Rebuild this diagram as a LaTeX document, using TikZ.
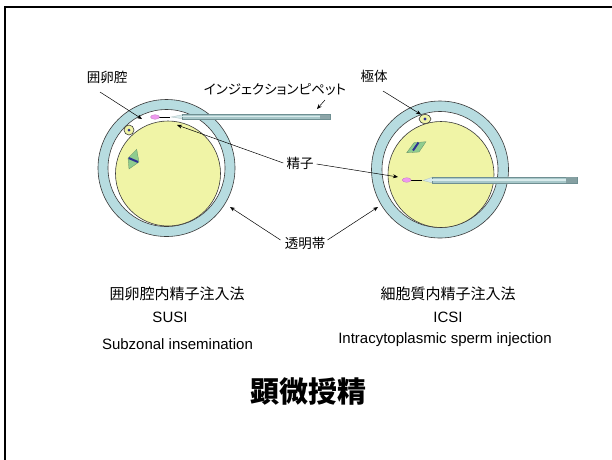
\documentclass[tikz,border=0pt]{standalone}
\usepackage{fontspec}
\setmainfont{Liberation Sans}
\newfontfamily\jp[RawFeature=+palt]{Noto Sans CJK JP}
\usetikzlibrary{arrows.meta}

\definecolor{zona}{HTML}{B7DCE0}
\definecolor{ooplasm}{HTML}{F0F4A6}
\definecolor{cellline}{HTML}{3A3A3A}
\definecolor{pip}{HTML}{A8C8CA}
\definecolor{pipedge}{HTML}{6F8F92}
\definecolor{piplight}{HTML}{D8EBEC}
\definecolor{sperm}{HTML}{EE99EE}
\definecolor{spindle}{HTML}{8FCC8F}
\definecolor{chromo}{HTML}{2E3192}

\begin{document}
\begin{tikzpicture}[x=1pt,y=-1pt,
  lbl/.style={font=\jp\fontsize{13.5}{15}\selectfont, inner sep=0pt},
  jpcap/.style={font=\jp\fontsize{15}{17}\selectfont, inner sep=0pt},
  eng/.style={font=\fontsize{15}{17}\selectfont, inner sep=0pt},
  ptr/.style={draw=black, line width=0.5pt, -{Stealth[length=5pt,width=4pt]}},
  ring/.style={draw=cellline, line width=0.6pt},
  pipbody/.style={fill=pip, draw=pipedge, line width=0.5pt},
]
\useasboundingbox (0,0) rectangle (612,459);
\fill[white] (0,0) rectangle (612,459);
% slide frame
\draw[line width=2pt] (5,7) rectangle (640,480);

% ---------- SUSI oocyte ----------
\filldraw[fill=zona, ring] (166.5,168) circle (68.5);
\filldraw[fill=white, ring] (166.5,168) circle (58.5);
\filldraw[fill=ooplasm, ring] (168,173.5) circle (52.5);
% polar body
\filldraw[fill=ooplasm, ring] (129,130) circle (5);
\fill[chromo] (129,130) circle (1.5);
% spindle
\filldraw[fill=spindle, draw=spindle!70!black, line width=0.3pt]
  (136.7,149.3) -- (139,162) -- (129,169) -- (128,158) -- cycle;
\draw[chromo, line width=2pt] (128.7,158) -- (138,162);
% sperm in the perivitelline space
\draw[black, line width=0.9pt] (159,117) -- (170,117);
\filldraw[fill=sperm, draw=sperm!80!black, line width=0.3pt] (155,117) ellipse (4.5 and 2.3);
% injection pipette
\filldraw[fill=piplight, draw=pipedge!60, line width=0.3pt]
  (171,117) -- (183,114.6) -- (183,118.8) -- cycle;
\filldraw[pipbody] (182,114.6) rectangle (330,118.8);
\fill[piplight] (182,116.2) rectangle (330,117.2);
\fill[pipedge!80] (320,114.6) rectangle (330,118.8);

% ---------- ICSI oocyte ----------
\filldraw[fill=zona, ring] (440,169.5) circle (68.5);
\filldraw[fill=white, ring] (440,169.5) circle (58);
\filldraw[fill=ooplasm, ring] (441,174.5) circle (53);
% polar body
\filldraw[fill=ooplasm, ring] (425,119) ellipse (6 and 4.5);
\fill[chromo] (425,119) circle (1.6);
% spindle
\filldraw[fill=spindle, draw=spindle!70!black, line width=0.3pt]
  (406.7,152.7) -- (414,142.7) -- (426,141.7) -- (419,152) -- cycle;
\draw[chromo, line width=2pt] (413,150.5) -- (418.5,142.5);
% sperm inside the ooplasm
\draw[black, line width=0.9pt] (411,180) -- (422,180);
\filldraw[fill=sperm, draw=sperm!80!black, line width=0.3pt] (406.7,180) ellipse (4.5 and 2.3);
% injection pipette
\filldraw[fill=piplight, draw=pipedge!60, line width=0.3pt]
  (423,180.5) -- (433,177) -- (433,183) -- cycle;
\filldraw[pipbody] (432,177) rectangle (577,183);
\fill[piplight] (432,179.3) rectangle (577,180.6);
\fill[pipedge!85] (566,177) rectangle (577,183);

% ---------- labels ----------
\node[lbl] (pvs) at (107,77) {囲卵腔};
\node[lbl] (pipl) at (275,90) {インジェクションピペット};
\node[lbl] (spm) at (300,163) {精子};
\node[lbl] (zp) at (305,243) {透明帯};
\node[lbl] (pb) at (374,76) {極体};

\coordinate (pvsFrom) at (100,92);
\coordinate (pvsTo) at (142,119);
\coordinate (pipFrom) at (325,100);
\coordinate (pipTo) at (317,109);
\coordinate (spmTo1) at (177,125);
\coordinate (spmTo2) at (398,177);
\coordinate (zpTo1) at (230,207);
\coordinate (zpTo2) at (378,207);
\coordinate (pbFrom) at (383,91);
\coordinate (pbTo) at (421,114.5);

\draw[ptr] (pvsFrom) -- (pvsTo);
\draw[ptr] (pipFrom) -- (pipTo);
\draw[ptr] (spm.west) ++(-3,0) -- (spmTo1);
\draw[ptr] (spm.east) ++(3,1) -- (spmTo2);
\draw[ptr] (zp.west) ++(-4,-3) -- (zpTo1);
\draw[ptr] (zp.east) ++(2,-3) -- (zpTo2);
\draw[ptr] (pbFrom) -- (pbTo);

% ---------- captions ----------
\node[jpcap] (jpL) at (177,294) {囲卵腔内精子注入法};
\node[eng] (abL) at (170,317) {SUSI};
\node[eng] (enL) at (177.5,344) {Subzonal insemination};
\node[jpcap] (jpR) at (448,294) {細胞質内精子注入法};
\node[eng] (abR) at (448,317) {ICSI};
\node[eng] (enR) at (445,340) {Intracytoplasmic sperm injection};

\node[font=\jp\bfseries\fontsize{29}{32}\selectfont, inner sep=0pt] (title) at (308,391) {顕微授精};
\end{tikzpicture}
\end{document}
